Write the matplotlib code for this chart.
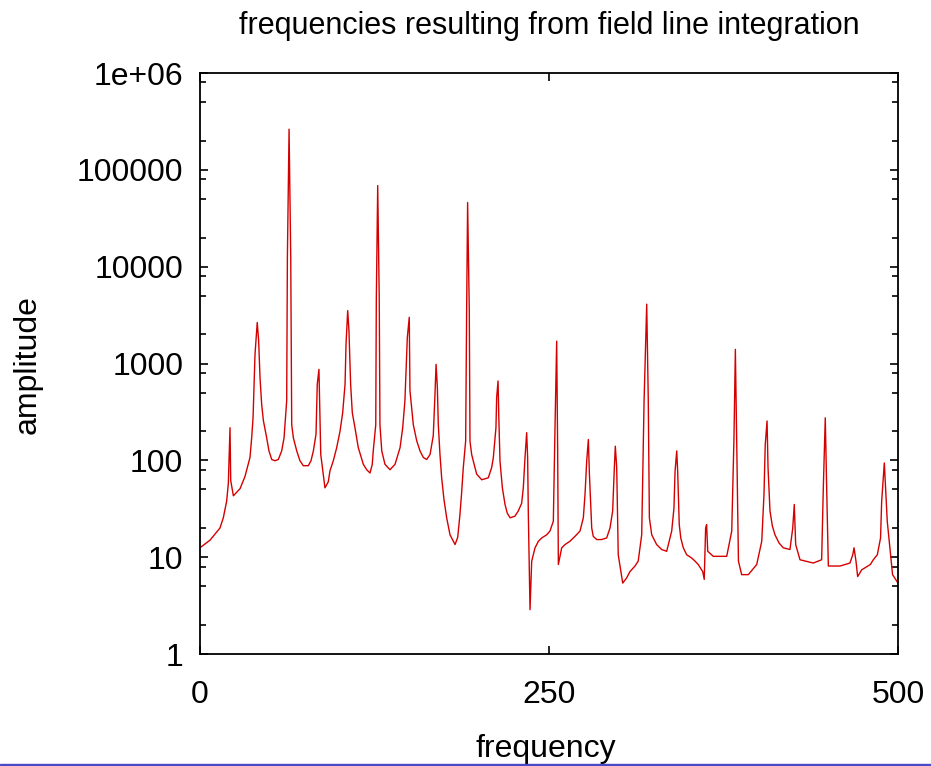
import matplotlib
matplotlib.use("Agg")
import matplotlib.pyplot as plt
from matplotlib.ticker import LogLocator, FixedLocator, NullFormatter
from matplotlib.patches import Rectangle

plt.rcParams['font.family'] = ['Liberation Sans', 'DejaVu Sans']

# spectrum
freq = [0.0, 7.2, 14.3, 16.7, 19.1, 20.3, 21.5, 22.0, 23.9, 28.7,
        32.2, 35.8, 37.0, 38.0, 39.4, 41.0, 42.0, 43.0, 44.2, 45.4,
        47.8, 49.4, 51.4, 53.7, 56.1, 58.5, 60.2, 60.9, 62.1, 62.6,
        63.8, 65.0, 65.7, 66.9, 69.3, 71.6, 74.0, 77.6, 79.5, 81.2,
        83.1, 84.0, 85.2, 86.5, 89.5, 91.9, 93.1, 95.5, 97.9, 100.3,
        102.2, 103.9, 104.6, 105.8, 106.7, 107.9, 109.1, 111.0, 113.4, 117.0,
        119.4, 121.8, 123.4, 124.1, 125.9, 126.3, 127.3, 128.4, 128.9, 130.2,
        132.5, 136.1, 139.7, 143.3, 145.2, 146.8, 148.5, 149.9, 150.4, 152.8,
        155.2, 157.6, 160.0, 162.4, 164.8, 167.1, 168.3, 169.1, 170.0, 170.7,
        171.9, 173.1, 174.8, 176.7, 179.1, 182.7, 184.6, 186.2, 187.4, 188.6,
        190.3, 191.0, 191.7, 192.9, 193.4, 194.6, 195.8, 198.2, 201.8, 206.5,
        208.9, 210.1, 212.0, 212.5, 213.5, 214.0, 214.9, 216.6, 218.5, 220.1,
        222.1, 225.6, 228.0, 230.4, 231.6, 232.8, 234.0, 234.7, 235.2, 235.9,
        236.4, 237.6, 240.0, 242.4, 244.8, 248.3, 250.7, 253.1, 254.3, 255.5,
        256.2, 256.7, 259.1, 261.5, 265.0, 268.6, 272.2, 274.6, 275.8, 277.0,
        278.2, 278.9, 280.6, 281.7, 284.2, 287.7, 291.3, 293.7, 295.6, 296.8,
        297.5, 298.5, 299.6, 302.8, 305.6, 308.0, 311.6, 313.9, 316.4, 318.1,
        320.0, 321.1, 321.9, 323.6, 327.1, 330.7, 334.3, 337.9, 339.5, 340.3,
        341.5, 342.2, 343.3, 344.4, 346.2, 348.6, 352.2, 354.6, 356.9, 360.1,
        361.2, 362.2, 362.9, 363.7, 367.7, 377.3, 380.9, 382.5, 383.5, 384.5,
        385.7, 388.0, 392.8, 398.8, 402.4, 404.0, 404.9, 406.2, 406.9, 408.3,
        410.0, 411.9, 414.8, 417.8, 422.6, 424.6, 425.7, 426.7, 429.8, 439.3,
        445.3, 446.5, 447.9, 448.9, 450.1, 458.5, 465.6, 467.6, 468.5, 469.9,
        471.1, 474.0, 480.2, 482.3, 485.2, 487.5, 488.3, 490.2, 491.2, 492.3,
        496.1, 500.0]
amp = [12.5, 15, 20, 25.5, 38, 58, 217, 62, 43, 51,
       68, 107, 170, 275, 1240, 2650, 1730, 710, 375, 257,
       170, 125, 102, 99, 102, 125, 170, 233, 414, 12500,
       263000, 12500, 233, 170, 125, 99, 88, 88, 99, 125,
       186, 610, 870, 115, 52, 60, 78, 99, 135, 200,
       310, 610, 1580, 3520, 2180, 610, 310, 217, 135, 91,
       80, 74, 91, 125, 233, 4600, 68700, 4600, 233, 125,
       91, 80, 91, 135, 217, 415, 1850, 3000, 525, 233,
       160, 125, 107, 102, 115, 180, 470, 980, 580, 235,
       115, 66, 39, 25.5, 17, 13.5, 16, 27.5, 46, 84,
       158, 3500, 46000, 3500, 158, 115, 98, 72, 63, 66,
       84, 106, 217, 445, 660, 296, 98, 52, 35, 28.5,
       25.5, 26.5, 30, 36, 52, 106, 193, 106, 27.5, 7.7,
       2.87, 9.1, 12.5, 14.6, 15.8, 17, 18.6, 23.5, 217, 1700,
       125, 8.4, 12.5, 13.5, 14.6, 16.4, 18.6, 25.5, 44.5, 98,
       164, 75, 20, 16.4, 15.2, 15.2, 15.8, 20, 30, 84,
       140, 84, 10.6, 5.4, 6.1, 7.1, 8.1, 9.1, 17, 410,
       4100, 430, 25.5, 17, 13.5, 12, 11.5, 18.6, 32, 77,
       125, 75, 21.7, 15.8, 12.5, 10.6, 9.8, 9.1, 8.4, 7.1,
       5.9, 20, 21.7, 11.5, 10.2, 10.2, 18.6, 170, 1400, 145,
       9.1, 6.6, 6.6, 8.4, 14.6, 44.5, 145, 255, 84, 30,
       21, 17, 14, 12.5, 12, 20, 35, 13.5, 9.4, 8.7,
       9.4, 52, 275, 52, 8.1, 8.1, 8.7, 10.6, 12.5, 9.1,
       6.3, 7.4, 8.4, 9.4, 10.6, 15.8, 37.7, 94, 48, 23.5,
       6.6, 5.4]

xticks = [0, 250, 500]
yticks = [1, 10, 100, 1000, 10000, 100000, 1000000]
ytick_labels = ['1', '10', '100', '1000', '10000', '100000', '1e+06']


def main():
    fig = plt.figure(figsize=(9.31, 7.66), dpi=100)
    ax = fig.add_axes([200 / 931, 1 - 654 / 766, 698 / 931, 581 / 766])

    ax.plot(freq, amp, color='#d40000', lw=1.0)

    ax.set_yscale('log')
    ax.set_xlim(0, 500)
    ax.set_ylim(1, 1e6)

    ax.xaxis.set_major_locator(FixedLocator(xticks))
    ax.set_xticklabels([str(t) for t in xticks])
    ax.yaxis.set_major_locator(FixedLocator(yticks))
    ax.set_yticklabels(ytick_labels)
    ax.yaxis.set_minor_locator(LogLocator(base=10, subs=(2.0, 5.0, 8.0)))
    ax.yaxis.set_minor_formatter(NullFormatter())

    ax.tick_params(axis='both', which='major', direction='in', length=6, width=1.2,
                   top=True, right=True, labelsize=23)
    ax.tick_params(axis='y', which='major', pad=12)
    ax.tick_params(axis='x', which='major', pad=19)
    ax.tick_params(axis='y', which='minor', direction='in', length=4, width=1.2,
                   left=True, right=True)
    for s in ax.spines.values():
        s.set_linewidth(1.3)

    fig.text(549 / 931, 1 - 26 / 766, 'frequencies resulting from field line integration',
             ha='center', va='center', fontsize=22)
    fig.text(28 / 931, 1 - 365 / 766, 'amplitude', rotation=90,
             ha='center', va='center', fontsize=23)
    fig.text(546 / 931, 1 - 734 / 766, 'frequency', ha='center', va='top', fontsize=23)

    # thin border at the bottom of the screenshot
    fig.add_artist(Rectangle((0, 0), 1, 2.5 / 766, transform=fig.transFigure,
                             color='#4a4ac8', zorder=10))

    fig.savefig('out.png', dpi=100)


if __name__ == '__main__':
    main()
